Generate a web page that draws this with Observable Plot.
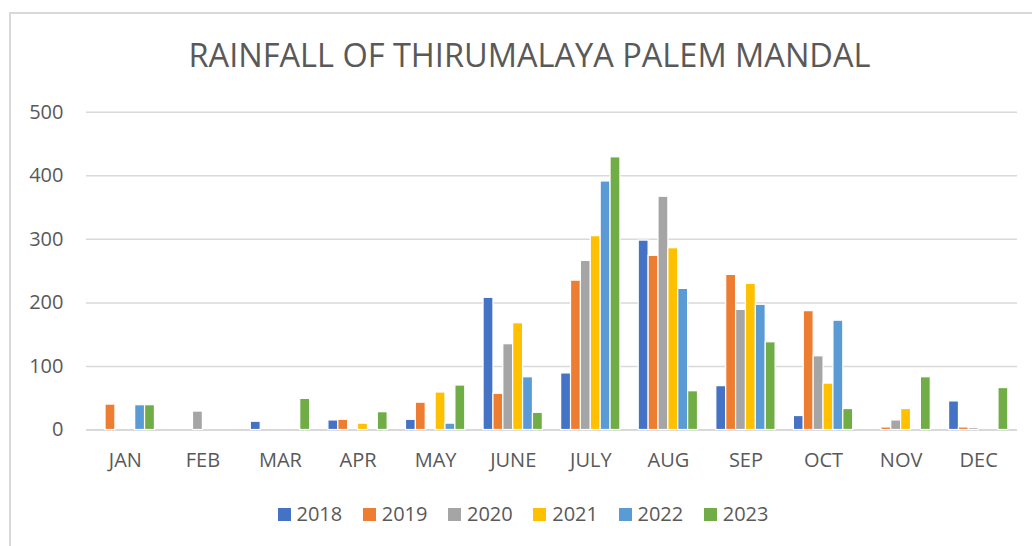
<!DOCTYPE html>
<html>
<head>
<meta charset="utf-8">
<script src="https://cdn.jsdelivr.net/npm/d3@7"></script>
<script src="https://cdn.jsdelivr.net/npm/@observablehq/plot@0.6"></script>
<style>
  html, body { margin: 0; padding: 0; background: #fff; }
  #chart { position: relative; width: 1032px; height: 546px; overflow: hidden; background: #fff; font-family: "Open Sans", sans-serif; color: #595959; }
  #chart > svg { position: absolute; left: 0; top: 0; }
  #frame { position: absolute; left: 9px; top: 12px; width: 1200px; height: 700px; border: 2px solid #d9d9d9; box-sizing: border-box; }
  #legend { position: absolute; left: 0; width: 1046px; top: 503px; display: flex; justify-content: center; gap: 20.5px; font-size: 20px; line-height: 22px; }
  .item { display: flex; align-items: center; gap: 6px; }
  .sw { width: 13px; height: 13px; }
</style>
</head>
<body>
<div id="chart"><div id="frame"></div></div>
<script>
const title = "RAINFALL OF THIRUMALAYA PALEM MANDAL";
const months = ["JAN","FEB","MAR","APR","MAY","JUNE","JULY","AUG","SEP","OCT","NOV","DEC"];
const years = ["2018","2019","2020","2021","2022","2023"];
const colors = ["#4472C4","#ED7D31","#A5A5A5","#FFC000","#5B9BD5","#70AD47"];
const yTicks = [0, 100, 200, 300, 400, 500];

// rainfall per year, one value per month (null = no bar)
const r2018 = [null, null, 13, 15, 16, 208, 89, 298, 69, 22, null, 45];
const r2019 = [40, null, null, 16, 43, 57, 235, 274, 244, 187, 4, 4];
const r2020 = [null, 29, null, null, null, 135, 266, 367, 189, 116, 15, 3];
const r2021 = [null, null, null, 10, 59, 168, 305, 286, 230, 73, 33, null];
const r2022 = [39, null, null, null, 10, 83, 391, 222, 197, 172, null, null];
const r2023 = [39, null, 49, 28, 70, 27, 429, 61, 138, 33, 83, 66];
const series = [r2018, r2019, r2020, r2021, r2022, r2023];

const table = [];
months.forEach((m, i) => years.forEach((y, j) => {
  const v = series[j][i];
  if (v != null) table.push({month: m, year: y, value: v});
}));

const W = 1032, H = 546, mL = 86, mR = 15, mT = 111.7, mB = 116.5;
const font = {background: "transparent", fontFamily: "Open Sans, sans-serif", fontSize: "20px", color: "#595959"};

const back = Plot.plot({
  width: W, height: H, marginLeft: mL, marginRight: mR, marginTop: mT, marginBottom: mB,
  style: font,
  y: {domain: [0, 500]},
  marks: [
    Plot.ruleY(yTicks.filter(d => d > 0), {stroke: "#d9d9d9", strokeWidth: 1.5}),
    Plot.ruleY([0], {stroke: "#d9d9d9", strokeWidth: 2}),
    Plot.axisY({ticks: yTicks, tickSize: 0, tickPadding: 23, label: null, tickFormat: d => String(d)}),
    Plot.text([title], {frameAnchor: "top", lineAnchor: "bottom", dy: 66.7 - mT, dx: 529 - (mL + (W - mR)) / 2, fontSize: 32, fill: "#595959", text: d => d})
  ]
});

const front = Plot.plot({
  width: W, height: H, marginLeft: mL, marginRight: mR, marginTop: mT, marginBottom: mB,
  style: font,
  fx: {domain: months, paddingInner: 0.236, paddingOuter: 0.118, round: false, label: null, tickSize: 0, tickPadding: 23, axis: "bottom"},
  x: {domain: years, padding: 0, round: false, axis: null},
  y: {domain: [0, 500], axis: null},
  color: {domain: years, range: colors},
  marks: [
    Plot.barY(table, {fx: "month", x: "year", y: "value", fill: "year", stroke: "white", strokeWidth: 1.2})
  ]
});

const chart = document.getElementById("chart");
chart.appendChild(back);
chart.appendChild(front);

// fit title width to reference
d3.select(back).selectAll("text").filter(function() { return this.textContent === title; })
  .attr("textLength", 682).attr("lengthAdjust", "spacingAndGlyphs");

const legend = d3.select(chart).append("div").attr("id", "legend");
years.forEach((y, i) => {
  const it = legend.append("div").attr("class", "item");
  it.append("div").attr("class", "sw").style("background", colors[i]);
  it.append("span").text(y);
});
</script>
</body>
</html>
